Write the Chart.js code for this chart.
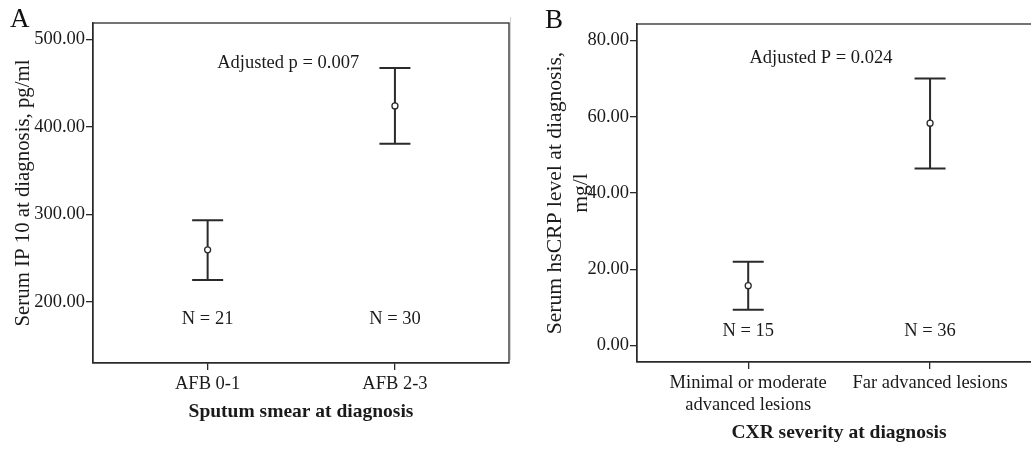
<!DOCTYPE html>
<html><head><meta charset="utf-8">
<script src="https://cdn.jsdelivr.net/npm/chart.js@4/dist/chart.umd.min.js"></script>
<style>
html,body{margin:0;padding:0;background:#fff;overflow:hidden;width:1031px;height:451px;}
#wrap{position:relative;width:1031px;height:451px;overflow:hidden;}
canvas{position:absolute;top:0;}
#ca{left:0;}
#cb{left:512px;}
#sep{position:absolute;left:510px;top:17px;width:1px;height:343px;background:#d0d0d0;}
.lbl{position:absolute;font-family:"Liberation Serif","Times New Roman",serif;font-size:27px;color:#111;line-height:1;}
</style></head>
<body><div id="wrap">
<canvas id="ca" width="515" height="451"></canvas>
<div id="sep"></div>
<canvas id="cb" width="540" height="451"></canvas>
<div class="lbl" style="left:10px;top:5px;">A</div>
<div class="lbl" style="left:545px;top:6px;">B</div>
</div>
<script>
// ---- Data ----
const categoriesA = ['AFB 0-1', 'AFB 2-3'];
const meanA = [259.7, 424.1];
const lowerA = [225.1, 381.0];
const upperA = [293.6, 467.5];
const nLabelsA = ['N = 21', 'N = 30'];
const yTicksA = [200, 300, 400, 500];
const pTextA = 'Adjusted p = 0.007';

const categoriesB = [['Minimal or moderate', 'advanced lesions'], 'Far advanced lesions'];
const meanB = [15.7, 58.3];
const lowerB = [9.4, 46.4];
const upperB = [22.0, 70.0];
const nLabelsB = ['N = 15', 'N = 36'];
const yTicksB = [0, 20, 40, 60, 80];
const pTextB = 'Adjusted P = 0.024';

// ---- Style ----
const FONT = '"Liberation Serif","Times New Roman",serif';
const TXT = '#1a1a1a';
const LINE = '#2a2a2a';

const errorBarPlugin = {
  id: 'errorBars',
  beforeDatasetsDraw(chart, args, o) {
    const {ctx, chartArea: a, scales: {x, y}} = chart;
    ctx.save();
    ctx.strokeStyle = LINE;
    ctx.lineWidth = 1.3;
    ctx.strokeRect(a.left, a.top, a.right - a.left, a.bottom - a.top);
    ctx.lineWidth = 2;
    o.lower.forEach((lo, i) => {
      const px = x.getPixelForValue(i + 1);
      const pl = y.getPixelForValue(lo), pu = y.getPixelForValue(o.upper[i]);
      ctx.beginPath();
      ctx.moveTo(px, pl); ctx.lineTo(px, pu);
      ctx.moveTo(px - 15.5, pl); ctx.lineTo(px + 15.5, pl);
      ctx.moveTo(px - 15.5, pu); ctx.lineTo(px + 15.5, pu);
      ctx.stroke();
    });
    ctx.fillStyle = TXT;
    ctx.font = '18.5px ' + FONT;
    ctx.textAlign = 'center';
    ctx.textBaseline = 'middle';
    o.nLabels.forEach((t, i) => {
      ctx.fillText(t, x.getPixelForValue(i + 1), y.getPixelForValue(o.nY));
    });
    ctx.fillText(o.pText, x.getPixelForValue(o.pX), y.getPixelForValue(o.pY));
    ctx.restore();
  }
};

function makeChart(id, cfg) {
  const pts = cfg.mean.map((v, i) => ({x: i + 1, y: v}));
  return new Chart(document.getElementById(id), {
    type: 'scatter',
    data: {datasets: [{data: pts, pointRadius: 3, pointBorderWidth: 1.3,
      pointBackgroundColor: '#fff', pointBorderColor: LINE, showLine: false}]},
    plugins: [errorBarPlugin],
    options: {
      responsive: false, animation: false, devicePixelRatio: 1,
      layout: {padding: {left: 0, top: cfg.padTop, right: cfg.padRight, bottom: 0}},
      plugins: {
        legend: {display: false}, tooltip: {enabled: false},
        errorBars: {lower: cfg.lower, upper: cfg.upper, nLabels: cfg.nLabels, nY: cfg.nY,
          pText: cfg.pText, pX: cfg.pX, pY: cfg.pY}
      },
      scales: {
        x: {
          type: 'linear', min: cfg.xMin, max: cfg.xMax,
          afterBuildTicks: s => { s.ticks = cfg.categories.map((c, i) => ({value: i + 1})); },
          afterFit: s => { s.height = cfg.xAxisH; },
          grid: {drawOnChartArea: false, drawTicks: true, tickLength: 7, color: LINE, lineWidth: 1.3},
          border: {display: true, color: LINE, width: 1.3},
          ticks: {color: TXT, padding: 3, maxRotation: 0, autoSkip: false,
            font: {family: FONT, size: 18.5, lineHeight: 1.2},
            callback: (v) => cfg.categories[Math.round(v) - 1]},
          title: {display: true, text: cfg.xTitle, color: TXT,
            font: {family: FONT, size: 19.5, weight: 'bold', lineHeight: 1.2},
            padding: {top: 0, bottom: cfg.xTitlePad}}
        },
        y: {
          type: 'linear', min: cfg.yMin, max: cfg.yMax,
          afterBuildTicks: s => { s.ticks = cfg.yTicks.map(v => ({value: v})); },
          afterFit: s => { s.width = cfg.yAxisW; },
          grid: {drawOnChartArea: false, drawTicks: true, tickLength: 7, color: LINE, lineWidth: 1.3},
          border: {display: true, color: LINE, width: 1.3},
          ticks: {color: TXT, padding: 1, autoSkip: false,
            font: {family: FONT, size: 18.5},
            callback: v => Number(v).toFixed(2)},
          title: {display: true, text: cfg.yTitle, color: TXT,
            font: {family: FONT, size: cfg.yTitleSize, lineHeight: 1.2},
            padding: {top: cfg.yTitlePad, bottom: 0}}
        }
      }
    }
  });
}

makeChart('ca', {
  categories: categoriesA, mean: meanA, lower: lowerA, upper: upperA,
  nLabels: nLabelsA, nY: 181, pText: pTextA, pX: 1.43, pY: 473,
  yTicks: yTicksA, yMin: 130.4, yMax: 518.8, xMin: 0.388, xMax: 2.609,
  padTop: 23, padRight: 6, xAxisH: 88, yAxisW: 93,
  xTitle: 'Sputum smear at diagnosis', xTitlePad: 27,
  yTitle: 'Serum IP 10 at diagnosis, pg/ml', yTitlePad: 11.5, yTitleSize: 20.8
});

makeChart('cb', {
  categories: categoriesB, mean: meanB, lower: lowerB, upper: upperB,
  nLabels: nLabelsB, nY: 3.85, pText: pTextB, pX: 1.40, pY: 75.4,
  yTicks: yTicksB, yMin: -4.3, yMax: 84.3, xMin: 0.3885, xMax: 2.61,
  padTop: 24, padRight: 11, xAxisH: 89, yAxisW: 125,
  xTitle: 'CXR severity at diagnosis', xTitlePad: 6,
  yTitle: ['Serum hsCRP level at diagnosis,', 'mg/l'], yTitlePad: 30.8, yTitleSize: 21.6
});
</script>
</body></html>
